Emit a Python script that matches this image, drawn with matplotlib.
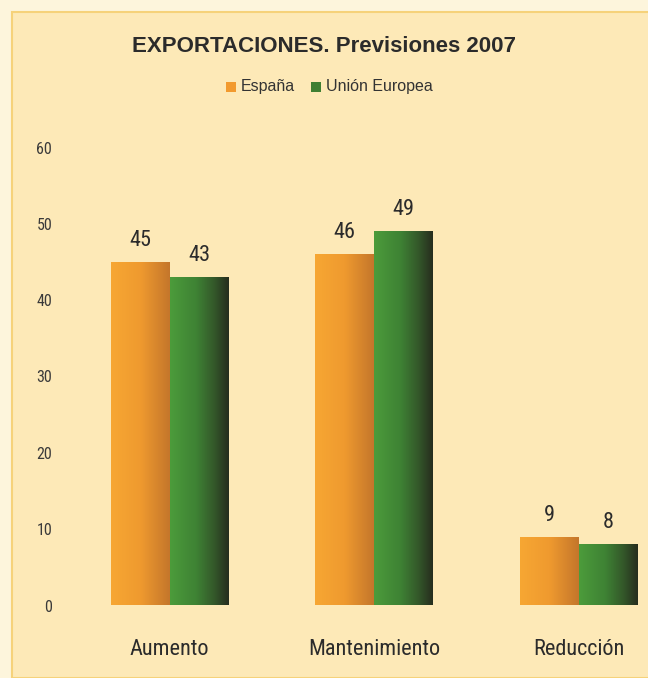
import numpy as np
import matplotlib.pyplot as plt
from matplotlib.patches import Rectangle

categories = ['Aumento', 'Mantenimiento', 'Reducción']
espana = [45, 46, 9]
ue = [43, 49, 8]
series_names = ['España', 'Unión Europea']
yticks = [0, 10, 20, 30, 40, 50, 60]

narrow = ['Roboto Condensed', 'Archivo Narrow', 'Liberation Sans', 'DejaVu Sans']

W, H = 648, 678
fig = plt.figure(figsize=(W / 100, H / 100), dpi=100)
fig.patch.set_facecolor('#fdf5dc')

# inner panel
panel = Rectangle((12 / W, 0), 1, (H - 12) / H, transform=fig.transFigure,
                  facecolor='#fde9b7', edgecolor='#f6d27a', linewidth=1.5, zorder=-5)
fig.patches.append(panel)

# axes placed by pixel box
x0, x1 = 80, 645
yb, yt = 605.5, 147.5
ax = fig.add_axes([x0 / W, (H - yb) / H, (x1 - x0) / W, (yb - yt) / H], zorder=2)
ax.set_facecolor('none')
c0, step = 169.5, 204.5
for s in ax.spines.values():
    s.set_visible(False)
ax.set_xticks([])
ax.set_yticks(yticks)
ax.set_yticklabels([str(t) for t in yticks], fontfamily=narrow, fontsize=11.5, color='#3a3a3a')
ax.tick_params(axis='y', length=0, pad=20)

bw = 0.288
x = np.arange(len(categories))
orange = plt.matplotlib.colors.LinearSegmentedColormap.from_list(
    'o', [(0, '#f7a733'), (0.5, '#ef9a2f'), (1, '#c4762b')])
green = plt.matplotlib.colors.LinearSegmentedColormap.from_list(
    'g', [(0, '#4c9c3b'), (0.45, '#3e8234'), (0.75, '#34582a'), (1, '#262d1e')])
grad = np.linspace(0, 1, 256).reshape(1, -1)

for vals, off, cmap in [(espana, -bw / 2, orange), (ue, bw / 2, green)]:
    bars = ax.bar(x + off, vals, width=bw, color='none', edgecolor='none')
    for b, v in zip(bars, vals):
        bx = b.get_x()
        im = ax.imshow(grad, cmap=cmap, aspect='auto', interpolation='bilinear',
                       extent=(bx, bx + b.get_width(), 0, v), zorder=2)
        im.set_clip_path(b)
        ax.annotate(str(v), (bx + b.get_width() / 2, v), xytext=(0, 11.5),
                    textcoords='offset points', ha='center', va='baseline',
                    fontfamily=narrow, fontsize=16, color='#2b2b2b')
ax.set_xlim((x0 - c0) / step, (x1 - c0) / step)
ax.set_ylim(0, 60)

# category labels
for xi, c in zip(x, categories):
    ax.annotate(c, (xi, 0), xytext=(0, -(655 - yb) * 0.72), textcoords='offset points',
                ha='center', va='baseline', fontfamily=narrow, fontsize=16,
                color='#2b2b2b', annotation_clip=False)

fig.text(0.5, (H - 46) / H, 'EXPORTACIONES. Previsiones 2007', ha='center', va='center',
         fontsize=16, fontweight='bold', color='#2b2b2b', family='Liberation Sans')

# legend
ly = (H - 87) / H
fig.patches.append(Rectangle((226 / W, ly - 5 / H), 10 / W, 10 / H, transform=fig.transFigure,
                             facecolor='#f29a2e', edgecolor='none'))
fig.text(241 / W, ly, series_names[0], va='center', fontsize=11.5, color='#333333', family='Liberation Sans')
fig.patches.append(Rectangle((311 / W, ly - 5 / H), 10 / W, 10 / H, transform=fig.transFigure,
                             facecolor='#3f7f33', edgecolor='none'))
fig.text(326 / W, ly, series_names[1], va='center', fontsize=11.5, color='#333333', family='Liberation Sans')

fig.savefig('out.png', dpi=100, facecolor=fig.get_facecolor())
